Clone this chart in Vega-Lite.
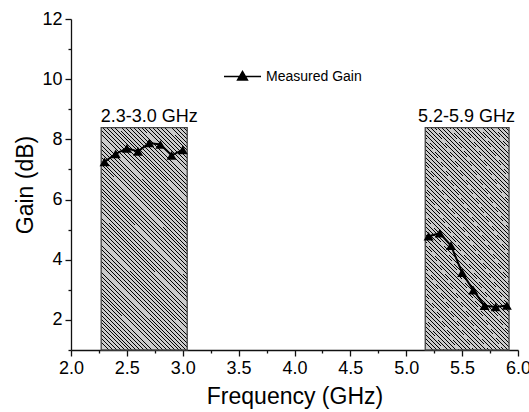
{
  "$schema": "https://vega.github.io/schema/vega-lite/v6.json",
  "width": 447,
  "height": 331,
  "autosize": {"type": "none"},
  "padding": {"left": 71, "top": 19, "right": 11, "bottom": 62},
  "background": "white",
  "config": {
    "view": {"stroke": null},
    "font": "Liberation Sans",
    "axis": {
      "grid": false,
      "domainColor": "#111",
      "domainWidth": 1.3,
      "tickColor": "#111",
      "tickWidth": 1.3,
      "labelColor": "black",
      "titleColor": "black",
      "labelFont": "Liberation Sans",
      "titleFont": "Liberation Sans",
      "labelFontSize": 18,
      "titleFontSize": 23,
      "titleFontWeight": "normal",
      "labelOverlap": false,
      "labelFlush": false,
      "labelBound": false
    },
    "legend": {"labelFont": "Liberation Sans"}
  },
  "resolve": {"axis": {"x": "independent", "y": "independent"}},
  "datasets": {
    "gain": [
      {"series": "Measured Gain", "band": "low", "freq": 2.3, "gain": 7.25},
      {"series": "Measured Gain", "band": "low", "freq": 2.4, "gain": 7.52},
      {"series": "Measured Gain", "band": "low", "freq": 2.5, "gain": 7.70},
      {"series": "Measured Gain", "band": "low", "freq": 2.6, "gain": 7.60},
      {"series": "Measured Gain", "band": "low", "freq": 2.7, "gain": 7.88},
      {"series": "Measured Gain", "band": "low", "freq": 2.8, "gain": 7.83},
      {"series": "Measured Gain", "band": "low", "freq": 2.9, "gain": 7.47},
      {"series": "Measured Gain", "band": "low", "freq": 3.0, "gain": 7.65},
      {"series": "Measured Gain", "band": "high", "freq": 5.2, "gain": 4.78},
      {"series": "Measured Gain", "band": "high", "freq": 5.3, "gain": 4.88},
      {"series": "Measured Gain", "band": "high", "freq": 5.4, "gain": 4.47},
      {"series": "Measured Gain", "band": "high", "freq": 5.5, "gain": 3.57},
      {"series": "Measured Gain", "band": "high", "freq": 5.6, "gain": 2.99},
      {"series": "Measured Gain", "band": "high", "freq": 5.7, "gain": 2.47},
      {"series": "Measured Gain", "band": "high", "freq": 5.8, "gain": 2.43},
      {"series": "Measured Gain", "band": "high", "freq": 5.9, "gain": 2.48}
    ],
    "bands": [
      {"label": "2.3-3.0 GHz", "start": 2.27, "end": 3.04, "top": 8.39, "labelx": 2.70},
      {"label": "5.2-5.9 GHz", "start": 5.17, "end": 5.92, "top": 8.39, "labelx": 5.54}
    ]
  },
  "layer": [
    {
      "data": {"name": "bands"},
      "mark": {
        "type": "rect",
        "stroke": "#444",
        "strokeWidth": 1.3,
        "fill": {
          "gradient": "linear",
          "x1": 0, "y1": 1, "x2": 0.467, "y2": -0.205,
          "stops": [
            {"offset":0,"color":"#000"},{"offset":0.003,"color":"#000"},{"offset":0.003,"color":"#cbcbcb"},{"offset":0.0125,"color":"#cbcbcb"},
            {"offset":0.0125,"color":"#000"},{"offset":0.0155,"color":"#000"},{"offset":0.0155,"color":"#cbcbcb"},{"offset":0.025,"color":"#cbcbcb"},
            {"offset":0.025,"color":"#000"},{"offset":0.028,"color":"#000"},{"offset":0.028,"color":"#cbcbcb"},{"offset":0.0375,"color":"#cbcbcb"},
            {"offset":0.0375,"color":"#000"},{"offset":0.0405,"color":"#000"},{"offset":0.0405,"color":"#cbcbcb"},{"offset":0.05,"color":"#cbcbcb"},
            {"offset":0.05,"color":"#000"},{"offset":0.053,"color":"#000"},{"offset":0.053,"color":"#cbcbcb"},{"offset":0.0625,"color":"#cbcbcb"},
            {"offset":0.0625,"color":"#000"},{"offset":0.0655,"color":"#000"},{"offset":0.0655,"color":"#cbcbcb"},{"offset":0.075,"color":"#cbcbcb"},
            {"offset":0.075,"color":"#000"},{"offset":0.078,"color":"#000"},{"offset":0.078,"color":"#cbcbcb"},{"offset":0.0875,"color":"#cbcbcb"},
            {"offset":0.0875,"color":"#000"},{"offset":0.0905,"color":"#000"},{"offset":0.0905,"color":"#cbcbcb"},{"offset":0.1,"color":"#cbcbcb"},
            {"offset":0.1,"color":"#000"},{"offset":0.103,"color":"#000"},{"offset":0.103,"color":"#cbcbcb"},{"offset":0.1125,"color":"#cbcbcb"},
            {"offset":0.1125,"color":"#000"},{"offset":0.1155,"color":"#000"},{"offset":0.1155,"color":"#cbcbcb"},{"offset":0.125,"color":"#cbcbcb"},
            {"offset":0.125,"color":"#000"},{"offset":0.128,"color":"#000"},{"offset":0.128,"color":"#cbcbcb"},{"offset":0.1375,"color":"#cbcbcb"},
            {"offset":0.1375,"color":"#000"},{"offset":0.1405,"color":"#000"},{"offset":0.1405,"color":"#cbcbcb"},{"offset":0.15,"color":"#cbcbcb"},
            {"offset":0.15,"color":"#000"},{"offset":0.153,"color":"#000"},{"offset":0.153,"color":"#cbcbcb"},{"offset":0.1625,"color":"#cbcbcb"},
            {"offset":0.1625,"color":"#000"},{"offset":0.1655,"color":"#000"},{"offset":0.1655,"color":"#cbcbcb"},{"offset":0.175,"color":"#cbcbcb"},
            {"offset":0.175,"color":"#000"},{"offset":0.178,"color":"#000"},{"offset":0.178,"color":"#cbcbcb"},{"offset":0.1875,"color":"#cbcbcb"},
            {"offset":0.1875,"color":"#000"},{"offset":0.1905,"color":"#000"},{"offset":0.1905,"color":"#cbcbcb"},{"offset":0.2,"color":"#cbcbcb"},
            {"offset":0.2,"color":"#000"},{"offset":0.203,"color":"#000"},{"offset":0.203,"color":"#cbcbcb"},{"offset":0.2125,"color":"#cbcbcb"},
            {"offset":0.2125,"color":"#000"},{"offset":0.2155,"color":"#000"},{"offset":0.2155,"color":"#cbcbcb"},{"offset":0.225,"color":"#cbcbcb"},
            {"offset":0.225,"color":"#000"},{"offset":0.228,"color":"#000"},{"offset":0.228,"color":"#cbcbcb"},{"offset":0.2375,"color":"#cbcbcb"},
            {"offset":0.2375,"color":"#000"},{"offset":0.2405,"color":"#000"},{"offset":0.2405,"color":"#cbcbcb"},{"offset":0.25,"color":"#cbcbcb"},
            {"offset":0.25,"color":"#000"},{"offset":0.253,"color":"#000"},{"offset":0.253,"color":"#cbcbcb"},{"offset":0.2625,"color":"#cbcbcb"},
            {"offset":0.2625,"color":"#000"},{"offset":0.2655,"color":"#000"},{"offset":0.2655,"color":"#cbcbcb"},{"offset":0.275,"color":"#cbcbcb"},
            {"offset":0.275,"color":"#000"},{"offset":0.278,"color":"#000"},{"offset":0.278,"color":"#cbcbcb"},{"offset":0.2875,"color":"#cbcbcb"},
            {"offset":0.2875,"color":"#000"},{"offset":0.2905,"color":"#000"},{"offset":0.2905,"color":"#cbcbcb"},{"offset":0.3,"color":"#cbcbcb"},
            {"offset":0.3,"color":"#000"},{"offset":0.303,"color":"#000"},{"offset":0.303,"color":"#cbcbcb"},{"offset":0.3125,"color":"#cbcbcb"},
            {"offset":0.3125,"color":"#000"},{"offset":0.3155,"color":"#000"},{"offset":0.3155,"color":"#cbcbcb"},{"offset":0.325,"color":"#cbcbcb"},
            {"offset":0.325,"color":"#000"},{"offset":0.328,"color":"#000"},{"offset":0.328,"color":"#cbcbcb"},{"offset":0.3375,"color":"#cbcbcb"},
            {"offset":0.3375,"color":"#000"},{"offset":0.3405,"color":"#000"},{"offset":0.3405,"color":"#cbcbcb"},{"offset":0.35,"color":"#cbcbcb"},
            {"offset":0.35,"color":"#000"},{"offset":0.353,"color":"#000"},{"offset":0.353,"color":"#cbcbcb"},{"offset":0.3625,"color":"#cbcbcb"},
            {"offset":0.3625,"color":"#000"},{"offset":0.3655,"color":"#000"},{"offset":0.3655,"color":"#cbcbcb"},{"offset":0.375,"color":"#cbcbcb"},
            {"offset":0.375,"color":"#000"},{"offset":0.378,"color":"#000"},{"offset":0.378,"color":"#cbcbcb"},{"offset":0.3875,"color":"#cbcbcb"},
            {"offset":0.3875,"color":"#000"},{"offset":0.3905,"color":"#000"},{"offset":0.3905,"color":"#cbcbcb"},{"offset":0.4,"color":"#cbcbcb"},
            {"offset":0.4,"color":"#000"},{"offset":0.403,"color":"#000"},{"offset":0.403,"color":"#cbcbcb"},{"offset":0.4125,"color":"#cbcbcb"},
            {"offset":0.4125,"color":"#000"},{"offset":0.4155,"color":"#000"},{"offset":0.4155,"color":"#cbcbcb"},{"offset":0.425,"color":"#cbcbcb"},
            {"offset":0.425,"color":"#000"},{"offset":0.428,"color":"#000"},{"offset":0.428,"color":"#cbcbcb"},{"offset":0.4375,"color":"#cbcbcb"},
            {"offset":0.4375,"color":"#000"},{"offset":0.4405,"color":"#000"},{"offset":0.4405,"color":"#cbcbcb"},{"offset":0.45,"color":"#cbcbcb"},
            {"offset":0.45,"color":"#000"},{"offset":0.453,"color":"#000"},{"offset":0.453,"color":"#cbcbcb"},{"offset":0.4625,"color":"#cbcbcb"},
            {"offset":0.4625,"color":"#000"},{"offset":0.4655,"color":"#000"},{"offset":0.4655,"color":"#cbcbcb"},{"offset":0.475,"color":"#cbcbcb"},
            {"offset":0.475,"color":"#000"},{"offset":0.478,"color":"#000"},{"offset":0.478,"color":"#cbcbcb"},{"offset":0.4875,"color":"#cbcbcb"},
            {"offset":0.4875,"color":"#000"},{"offset":0.4905,"color":"#000"},{"offset":0.4905,"color":"#cbcbcb"},{"offset":0.5,"color":"#cbcbcb"},
            {"offset":0.5,"color":"#000"},{"offset":0.503,"color":"#000"},{"offset":0.503,"color":"#cbcbcb"},{"offset":0.5125,"color":"#cbcbcb"},
            {"offset":0.5125,"color":"#000"},{"offset":0.5155,"color":"#000"},{"offset":0.5155,"color":"#cbcbcb"},{"offset":0.525,"color":"#cbcbcb"},
            {"offset":0.525,"color":"#000"},{"offset":0.528,"color":"#000"},{"offset":0.528,"color":"#cbcbcb"},{"offset":0.5375,"color":"#cbcbcb"},
            {"offset":0.5375,"color":"#000"},{"offset":0.5405,"color":"#000"},{"offset":0.5405,"color":"#cbcbcb"},{"offset":0.55,"color":"#cbcbcb"},
            {"offset":0.55,"color":"#000"},{"offset":0.553,"color":"#000"},{"offset":0.553,"color":"#cbcbcb"},{"offset":0.5625,"color":"#cbcbcb"},
            {"offset":0.5625,"color":"#000"},{"offset":0.5655,"color":"#000"},{"offset":0.5655,"color":"#cbcbcb"},{"offset":0.575,"color":"#cbcbcb"},
            {"offset":0.575,"color":"#000"},{"offset":0.578,"color":"#000"},{"offset":0.578,"color":"#cbcbcb"},{"offset":0.5875,"color":"#cbcbcb"},
            {"offset":0.5875,"color":"#000"},{"offset":0.5905,"color":"#000"},{"offset":0.5905,"color":"#cbcbcb"},{"offset":0.6,"color":"#cbcbcb"},
            {"offset":0.6,"color":"#000"},{"offset":0.603,"color":"#000"},{"offset":0.603,"color":"#cbcbcb"},{"offset":0.6125,"color":"#cbcbcb"},
            {"offset":0.6125,"color":"#000"},{"offset":0.6155,"color":"#000"},{"offset":0.6155,"color":"#cbcbcb"},{"offset":0.625,"color":"#cbcbcb"},
            {"offset":0.625,"color":"#000"},{"offset":0.628,"color":"#000"},{"offset":0.628,"color":"#cbcbcb"},{"offset":0.6375,"color":"#cbcbcb"},
            {"offset":0.6375,"color":"#000"},{"offset":0.6405,"color":"#000"},{"offset":0.6405,"color":"#cbcbcb"},{"offset":0.65,"color":"#cbcbcb"},
            {"offset":0.65,"color":"#000"},{"offset":0.653,"color":"#000"},{"offset":0.653,"color":"#cbcbcb"},{"offset":0.6625,"color":"#cbcbcb"},
            {"offset":0.6625,"color":"#000"},{"offset":0.6655,"color":"#000"},{"offset":0.6655,"color":"#cbcbcb"},{"offset":0.675,"color":"#cbcbcb"},
            {"offset":0.675,"color":"#000"},{"offset":0.678,"color":"#000"},{"offset":0.678,"color":"#cbcbcb"},{"offset":0.6875,"color":"#cbcbcb"},
            {"offset":0.6875,"color":"#000"},{"offset":0.6905,"color":"#000"},{"offset":0.6905,"color":"#cbcbcb"},{"offset":0.7,"color":"#cbcbcb"},
            {"offset":0.7,"color":"#000"},{"offset":0.703,"color":"#000"},{"offset":0.703,"color":"#cbcbcb"},{"offset":0.7125,"color":"#cbcbcb"},
            {"offset":0.7125,"color":"#000"},{"offset":0.7155,"color":"#000"},{"offset":0.7155,"color":"#cbcbcb"},{"offset":0.725,"color":"#cbcbcb"},
            {"offset":0.725,"color":"#000"},{"offset":0.728,"color":"#000"},{"offset":0.728,"color":"#cbcbcb"},{"offset":0.7375,"color":"#cbcbcb"},
            {"offset":0.7375,"color":"#000"},{"offset":0.7405,"color":"#000"},{"offset":0.7405,"color":"#cbcbcb"},{"offset":0.75,"color":"#cbcbcb"},
            {"offset":0.75,"color":"#000"},{"offset":0.753,"color":"#000"},{"offset":0.753,"color":"#cbcbcb"},{"offset":0.7625,"color":"#cbcbcb"},
            {"offset":0.7625,"color":"#000"},{"offset":0.7655,"color":"#000"},{"offset":0.7655,"color":"#cbcbcb"},{"offset":0.775,"color":"#cbcbcb"},
            {"offset":0.775,"color":"#000"},{"offset":0.778,"color":"#000"},{"offset":0.778,"color":"#cbcbcb"},{"offset":0.7875,"color":"#cbcbcb"},
            {"offset":0.7875,"color":"#000"},{"offset":0.7905,"color":"#000"},{"offset":0.7905,"color":"#cbcbcb"},{"offset":0.8,"color":"#cbcbcb"},
            {"offset":0.8,"color":"#000"},{"offset":0.803,"color":"#000"},{"offset":0.803,"color":"#cbcbcb"},{"offset":0.8125,"color":"#cbcbcb"},
            {"offset":0.8125,"color":"#000"},{"offset":0.8155,"color":"#000"},{"offset":0.8155,"color":"#cbcbcb"},{"offset":0.825,"color":"#cbcbcb"},
            {"offset":0.825,"color":"#000"},{"offset":0.828,"color":"#000"},{"offset":0.828,"color":"#cbcbcb"},{"offset":0.8375,"color":"#cbcbcb"},
            {"offset":0.8375,"color":"#000"},{"offset":0.8405,"color":"#000"},{"offset":0.8405,"color":"#cbcbcb"},{"offset":0.85,"color":"#cbcbcb"},
            {"offset":0.85,"color":"#000"},{"offset":0.853,"color":"#000"},{"offset":0.853,"color":"#cbcbcb"},{"offset":0.8625,"color":"#cbcbcb"},
            {"offset":0.8625,"color":"#000"},{"offset":0.8655,"color":"#000"},{"offset":0.8655,"color":"#cbcbcb"},{"offset":0.875,"color":"#cbcbcb"},
            {"offset":0.875,"color":"#000"},{"offset":0.878,"color":"#000"},{"offset":0.878,"color":"#cbcbcb"},{"offset":0.8875,"color":"#cbcbcb"},
            {"offset":0.8875,"color":"#000"},{"offset":0.8905,"color":"#000"},{"offset":0.8905,"color":"#cbcbcb"},{"offset":0.9,"color":"#cbcbcb"},
            {"offset":0.9,"color":"#000"},{"offset":0.903,"color":"#000"},{"offset":0.903,"color":"#cbcbcb"},{"offset":0.9125,"color":"#cbcbcb"},
            {"offset":0.9125,"color":"#000"},{"offset":0.9155,"color":"#000"},{"offset":0.9155,"color":"#cbcbcb"},{"offset":0.925,"color":"#cbcbcb"},
            {"offset":0.925,"color":"#000"},{"offset":0.928,"color":"#000"},{"offset":0.928,"color":"#cbcbcb"},{"offset":0.9375,"color":"#cbcbcb"},
            {"offset":0.9375,"color":"#000"},{"offset":0.9405,"color":"#000"},{"offset":0.9405,"color":"#cbcbcb"},{"offset":0.95,"color":"#cbcbcb"},
            {"offset":0.95,"color":"#000"},{"offset":0.953,"color":"#000"},{"offset":0.953,"color":"#cbcbcb"},{"offset":0.9625,"color":"#cbcbcb"},
            {"offset":0.9625,"color":"#000"},{"offset":0.9655,"color":"#000"},{"offset":0.9655,"color":"#cbcbcb"},{"offset":0.975,"color":"#cbcbcb"},
            {"offset":0.975,"color":"#000"},{"offset":0.978,"color":"#000"},{"offset":0.978,"color":"#cbcbcb"},{"offset":0.9875,"color":"#cbcbcb"},
            {"offset":0.9875,"color":"#000"},{"offset":0.9905,"color":"#000"},{"offset":0.9905,"color":"#cbcbcb"},{"offset":1,"color":"#cbcbcb"}
          ]
        }
      },
      "encoding": {
        "x": {
          "field": "start",
          "type": "quantitative",
          "scale": {"domain": [2, 6], "nice": false, "zero": false},
          "axis": {
            "title": "Frequency (GHz)",
            "orient": "bottom",
            "values": [2, 2.5, 3, 3.5, 4, 4.5, 5, 5.5, 6],
            "format": ".1f",
            "tickSize": 6,
            "labelPadding": 3,
            "titlePadding": 8
          }
        },
        "x2": {"field": "end"},
        "y": {
          "field": "top",
          "type": "quantitative",
          "scale": {"domain": [1, 12], "nice": false, "zero": false},
          "axis": {
            "title": "Gain (dB)",
            "orient": "left",
            "values": [2, 4, 6, 8, 10, 12],
            "format": "d",
            "tickSize": 6,
            "labelPadding": 3,
            "titlePadding": 4
          }
        },
        "y2": {"datum": 1}
      }
    },
    {
      "data": {"name": "bands"},
      "mark": {"type": "text", "baseline": "bottom", "align": "center", "dy": -2, "fontSize": 18, "font": "Liberation Sans", "color": "black"},
      "encoding": {
        "x": {
          "field": "labelx",
          "type": "quantitative",
          "axis": {"orient": "bottom", "title": null, "labels": false, "domain": false, "tickSize": 3, "values": [2.25, 2.75, 3.25, 3.75, 4.25, 4.75, 5.25, 5.75]}
        },
        "y": {
          "field": "top",
          "type": "quantitative",
          "axis": {"orient": "left", "title": null, "labels": false, "domain": false, "tickSize": 3, "values": [1, 3, 5, 7, 9, 11]}
        },
        "text": {"field": "label"}
      }
    },
    {
      "data": {"name": "gain"},
      "mark": {"type": "line", "strokeWidth": 2},
      "encoding": {
        "x": {"field": "freq", "type": "quantitative", "axis": null},
        "y": {"field": "gain", "type": "quantitative", "axis": null},
        "detail": {"field": "band"},
        "color": {
          "field": "series",
          "type": "nominal",
          "scale": {"range": ["black"]},
          "legend": {
            "title": null,
            "orient": "none",
            "legendX": 152,
            "legendY": 38,
            "symbolType": "M-1,0H1M-0.26,0.19L0,-0.26L0.26,0.19Z",
            "symbolSize": 1369,
            "symbolFillColor": "black",
            "symbolStrokeColor": "black",
            "symbolStrokeWidth": 1.6,
            "labelFontSize": 14,
            "labelColor": "black",
            "labelOffset": 4,
            "padding": 0
          }
        }
      }
    },
    {
      "data": {"name": "gain"},
      "mark": {"type": "point", "shape": "triangle-up", "filled": true, "size": 100, "opacity": 1},
      "encoding": {
        "x": {"field": "freq", "type": "quantitative", "axis": null},
        "y": {"field": "gain", "type": "quantitative", "axis": null},
        "color": {"field": "series", "type": "nominal"}
      }
    }
  ]
}
